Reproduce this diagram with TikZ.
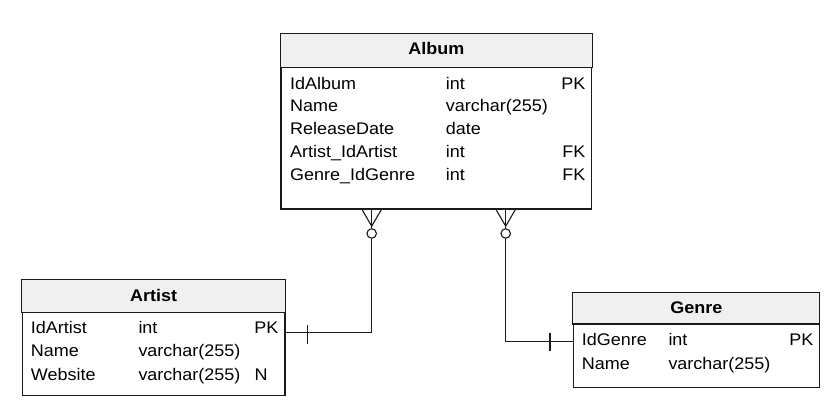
\documentclass[tikz,border=0pt]{standalone}
\usepackage{fontspec}
\setmainfont{Liberation Sans}
\newfontfamily\erfont[FakeStretch=1.07]{Liberation Sans}
\usetikzlibrary{calc}
\definecolor{headfill}{HTML}{F0F0F0}
\definecolor{ink}{HTML}{1A1A1A}
\begin{document}
\begin{tikzpicture}[x=1pt,y=-1pt,
  entity/.style={draw=ink, line width=1.1pt, inner sep=0pt},
  head/.style={draw=ink, line width=1.1pt, fill=headfill},
  txt/.style={inner sep=0pt, font=\erfont\fontsize{16.8}{18}\selectfont, text=black},
  ttl/.style={inner sep=0pt, font=\erfont\fontsize{16.8}{18}\selectfont\bfseries, text=black, anchor=base},
  link/.style={draw=ink, line width=1.1pt},
  fk/.style={circle, draw=ink, line width=1.1pt, fill=white, minimum size=9.5pt, inner sep=0pt}]
\fill[white] (0,0) rectangle (839,420);
\useasboundingbox (0,0) rectangle (839,420);
% ---- Album
\coordinate (ahd) at (0,67.3);
\node[entity, minimum width=310.7pt, minimum height=174.5pt] (album) at (436.35,121.75) {};
\draw[head] (album.north west) rectangle (album.east |- ahd);
\node[ttl] (albumT) at (436.35,55) {Album};
\node[txt, anchor=base west] (a1) at (290,89.3) {IdAlbum};
\node[txt, anchor=base west] (a2) at (290,112) {Name};
\node[txt, anchor=base west] (a3) at (290,134.7) {ReleaseDate};
\node[txt, anchor=base west] (a4) at (290,157.4) {Artist\_IdArtist};
\node[txt, anchor=base west] (a5) at (290,180) {Genre\_IdGenre};
\node[txt, anchor=base west] (a1t) at (445.7,89.3) {int};
\node[txt, anchor=base west] (a2t) at (445.7,112) {varchar(255)};
\node[txt, anchor=base west] (a3t) at (445.7,134.7) {date};
\node[txt, anchor=base west] (a4t) at (445.7,157.4) {int};
\node[txt, anchor=base west] (a5t) at (445.7,180) {int};
\node[txt, anchor=base east] (a1k) at (585.5,89.3) {PK};
\node[txt, anchor=base east] (a4k) at (585.5,157.4) {FK};
\node[txt, anchor=base east] (a5k) at (585.5,180) {FK};
% ---- Artist
\coordinate (rhd) at (0,312.3);
\node[entity, minimum width=262.7pt, minimum height=115.7pt] (artist) at (153.65,337.85) {};
\draw[head] (artist.north west) rectangle (artist.east |- rhd);
\node[ttl] (artistT) at (153.65,301) {Artist};
\node[txt, anchor=base west] (r1) at (30.7,333.3) {IdArtist};
\node[txt, anchor=base west] (r2) at (30.7,356.7) {Name};
\node[txt, anchor=base west] (r3) at (30.7,380) {Website};
\node[txt, anchor=base west] (r1t) at (138.3,333.3) {int};
\node[txt, anchor=base west] (r2t) at (138.3,356.7) {varchar(255)};
\node[txt, anchor=base west] (r3t) at (138.3,380) {varchar(255)};
\node[txt, anchor=base west] (r3k) at (254.5,380) {N};
\node[txt, anchor=base east] (r1k) at (278.5,333.3) {PK};
% ---- Genre
\coordinate (ghd) at (0,324);
\node[entity, minimum width=246pt, minimum height=94pt] (genre) at (696.3,340.3) {};
\draw[head] (genre.north west) rectangle (genre.east |- ghd);
\node[ttl] (genreT) at (696.3,313.5) {Genre};
\node[txt, anchor=base west] (g1) at (581.7,345.7) {IdGenre};
\node[txt, anchor=base west] (g2) at (581.7,369) {Name};
\node[txt, anchor=base west] (g1t) at (668.3,345.7) {int};
\node[txt, anchor=base west] (g2t) at (668.3,369) {varchar(255)};
\node[txt, anchor=base east] (g1k) at (813.5,345.7) {PK};
% ---- relationships
\node[fk] (c1) at (371.7,233.5) {};
\node[fk] (c2) at (505.7,233.5) {};
\coordinate (ar) at (0,332.7);
\coordinate (gr) at (0,341.5);
\draw[link] (artist.east |- ar) -| (c1.south);
\draw[link] (genre.west |- gr) -| (c2.south);
% crow's feet
\draw[link] ($(c1 |- album.south)+(-9.7,0)$) -- ($(c1.north)+(0,-2)$) -- ($(c1 |- album.south)+(9.7,0)$);
\draw[link] (c1 |- album.south) -- (c1.north);
\draw[link] ($(c2 |- album.south)+(-9.7,0)$) -- ($(c2.north)+(0,-2)$) -- ($(c2 |- album.south)+(9.7,0)$);
\draw[link] (c2 |- album.south) -- (c2.north);
% one bars
\draw[link] (307.7,325) -- (307.7,344);
\draw[link] (550,332.7) -- (550,351);
\end{tikzpicture}
\end{document}
